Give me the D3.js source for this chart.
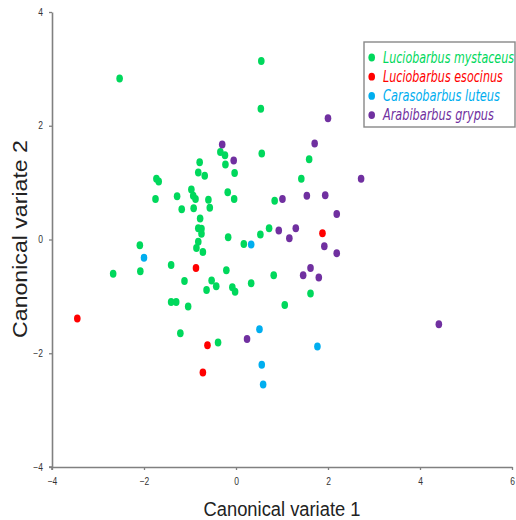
<!DOCTYPE html>
<html>
<head>
<meta charset="utf-8">
<script src="https://cdn.jsdelivr.net/npm/d3@7"></script>
<style>
  body { margin: 0; background: #fff; }
  svg { display: block; }
  text { font-family: "Liberation Sans", Arial, sans-serif; }
</style>
</head>
<body>
<svg id="chart" width="516" height="520"></svg>
<script>
// species names and colours, in legend order
var species = ["Luciobarbus mystaceus", "Luciobarbus esocinus", "Carasobarbus luteus", "Arabibarbus grypus"];
var speciesColors = ["#00d85c", "#ff0000", "#00aeef", "#7030a0"];

// canonical variate scores [cv1, cv2]
var mystaceus = [
  [-2.53, 2.83], [0.55, 3.14], [0.54, 2.30], [0.56, 1.51], [-0.34, 1.54], [-0.24, 1.48],
  [-0.23, 1.32], [-0.79, 1.36], [-0.82, 1.18], [-0.68, 1.12], [-0.03, 1.17], [-1.73, 1.07],
  [-1.68, 1.02], [-1.75, 0.71], [-1.28, 0.76], [-1.18, 0.53], [-0.97, 0.88], [-0.93, 0.77],
  [-0.88, 0.71], [-0.92, 0.55], [-0.60, 0.70], [-0.57, 0.56], [-0.18, 0.83], [-0.04, 0.71],
  [-0.78, 0.37], [-0.82, 0.20], [-0.75, 0.19], [-0.75, 0.10], [-0.82, -0.04], [-0.86, -0.15],
  [-0.72, -0.22], [-0.17, 0.04], [0.17, -0.08], [0.53, 0.09], [0.72, 0.20], [0.84, 0.68],
  [1.42, 1.07], [1.59, 1.41], [-2.09, -0.10], [-2.67, -0.60], [-2.08, -0.56], [-1.41, -0.45],
  [-1.12, -0.73], [-0.21, -0.54], [-0.53, -0.72], [-0.43, -0.82], [-0.64, -0.89], [-0.08, -0.84],
  [-0.02, -0.92], [0.33, -0.77], [0.82, -0.63], [1.62, -0.95], [1.06, -1.15], [-1.41, -1.10],
  [-1.30, -1.10], [-1.04, -1.18], [-1.21, -1.65], [-0.39, -1.81]
];
var esocinus = [
  [-3.45, -1.39], [-0.87, -0.50], [-0.62, -1.86], [-0.72, -2.34], [1.88, 0.11]
];
var luteus = [
  [-2.00, -0.32], [0.33, -0.09], [0.51, -1.58], [1.77, -1.88], [0.56, -2.20], [0.59, -2.55]
];
var grypus = [
  [-0.30, 1.67], [-0.05, 1.39], [2.00, 2.13], [1.71, 1.69], [2.72, 1.07], [1.01, 0.71],
  [1.54, 0.77], [1.94, 0.78], [2.19, 0.45], [0.93, 0.16], [1.16, 0.02], [1.30, 0.20],
  [1.92, -0.12], [2.19, -0.24], [1.46, -0.63], [1.62, -0.50], [1.80, -0.67], [0.24, -1.75],
  [4.41, -1.49]
];

var xTicks = [-4, -2, 0, 2, 4, 6];
var yTicks = [-4, -2, 0, 2, 4];

var groups = [mystaceus, esocinus, luteus, grypus];

var svg = d3.select("#chart");

var x = d3.scaleLinear().domain([-4, 6]).range([52, 512]);
var y = d3.scaleLinear().domain([-4, 4]).range([467, 12]);

var axisColor = "#808080";

// squeeze a text horizontally so it is 'len' px wide (the original is a bit stretched)
function squeeze(sel, tx, ty, len, rot) {
  var w = sel.node().getComputedTextLength();
  var s = len / w;
  sel.attr("transform", "translate(" + tx + "," + ty + ")" + (rot ? " rotate(" + rot + ")" : "") + " scale(" + s + ",1)");
}

// x axis
var xAxis = svg.append("g")
  .attr("transform", "translate(0," + y(-4) + ")")
  .call(d3.axisBottom(x).tickValues(xTicks).tickSize(3).tickPadding(8).tickSizeOuter(0));

// y axis
var yAxis = svg.append("g")
  .attr("transform", "translate(" + x(-4) + ",0)")
  .call(d3.axisLeft(y).tickValues(yTicks).tickSize(3).tickPadding(6).tickSizeOuter(0));

[xAxis, yAxis].forEach(function(ax) {
  ax.select(".domain").attr("stroke", axisColor).attr("stroke-width", 1.6);
  ax.selectAll(".tick line").attr("stroke", axisColor).attr("stroke-width", 1.3);
  ax.selectAll(".tick text")
    .attr("fill", "#333")
    .style("font-size", "10px")
    .style("font-family", "'Liberation Sans', Arial, sans-serif");
});
xAxis.selectAll(".tick text").attr("transform", "scale(0.85,1)");
yAxis.selectAll(".tick text").attr("x", -9 / 0.85).attr("transform", "scale(0.85,1)");

// small overhang where the two axes meet
svg.append("line")
  .attr("x1", x(-4)).attr("x2", x(-4))
  .attr("y1", y(-4)).attr("y2", y(-4) + 3)
  .attr("stroke", axisColor).attr("stroke-width", 1.6);
svg.append("line")
  .attr("x1", x(-4) - 3).attr("x2", x(-4))
  .attr("y1", y(-4)).attr("y2", y(-4))
  .attr("stroke", axisColor).attr("stroke-width", 1.6);

// points
groups.forEach(function(pts, i) {
  svg.append("g").selectAll("ellipse").data(pts).enter()
    .append("ellipse")
    .attr("cx", function(d) { return x(d[0]); })
    .attr("cy", function(d) { return y(d[1]); })
    .attr("rx", 3.3)
    .attr("ry", 4)
    .attr("fill", speciesColors[i]);
});

// axis titles
var xTitle = svg.append("text")
  .attr("text-anchor", "middle")
  .style("font-size", "21px")
  .attr("fill", "#222")
  .text("Canonical variate 1");
squeeze(xTitle, 282, 516, 157);

var yTitle = svg.append("text")
  .attr("text-anchor", "middle")
  .style("font-size", "19.5px")
  .attr("fill", "#222")
  .text("Canonical variate 2");
squeeze(yTitle, 27, 239, 198, -90);

// legend (its right edge is cut by the picture border in the original)
var legend = svg.append("g");
legend.append("rect")
  .attr("x", 364).attr("y", 42)
  .attr("width", 151).attr("height", 85)
  .attr("fill", "#fff")
  .attr("stroke", "#888").attr("stroke-width", 1.4);

var legendLen = [131, 120, 117, 111];
species.forEach(function(name, i) {
  var cy = 57.5 + i * 19.2;
  legend.append("ellipse")
    .attr("cx", 371.7).attr("cy", cy)
    .attr("rx", 3.3).attr("ry", 3.9)
    .attr("fill", speciesColors[i]);
  var t = legend.append("text")
    .style("font-size", "15px")
    .style("font-style", "italic")
    .style("font-family", "'DejaVu Sans', Verdana, sans-serif")
    .attr("fill", speciesColors[i])
    .text(name);
  squeeze(t, 383, cy + 5, legendLen[i]);
});
</script>
</body>
</html>
